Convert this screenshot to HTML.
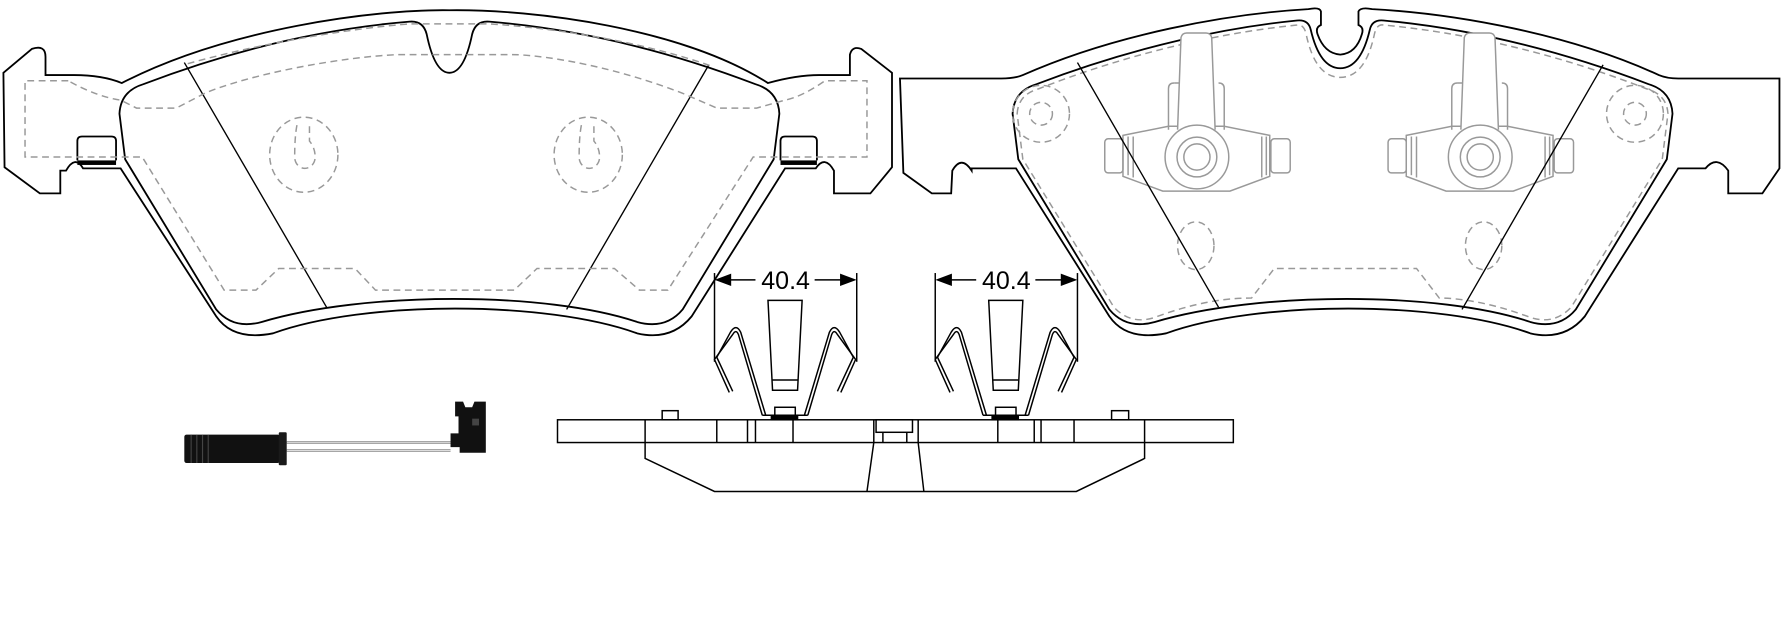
<!DOCTYPE html>
<html><head><meta charset="utf-8"><style>
html,body{margin:0;padding:0;background:#fff;}
svg{display:block;}
text{font-family:"Liberation Sans",sans-serif;}
</style></head><body>
<svg width="1784" height="634" viewBox="0 0 1568 557.3" preserveAspectRatio="none" xmlns="http://www.w3.org/2000/svg">
<defs>
<g id="mount" fill="none" stroke="#999" stroke-width="1.3">
  <path d="M987,119 L1027,111 L1076,111 L1116,119 L1116,155 L1081,168 L1022,168 L987,155 Z" fill="#fff"/>
  <rect x="971" y="122" width="16" height="30" rx="3"/>
  <rect x="1117" y="122" width="17" height="30" rx="3"/>
  <line x1="991.5" y1="120" x2="991.5" y2="154"/><line x1="996" y1="120" x2="996" y2="156"/>
  <line x1="1109" y1="120" x2="1109" y2="156"/><line x1="1113" y1="120" x2="1113" y2="154"/>
  <path d="M1027,114 L1027,78 Q1027,73 1032,73 M1071,73 Q1076,73 1076,78 L1076,114"/>
  <line x1="1032" y1="73" x2="1071" y2="73" stroke-dasharray="8,5"/>
  <path d="M1035,114 L1038,33 Q1039,29 1043,29 L1060,29 Q1064,29 1065,33 L1068,114" fill="#fff"/>
  <circle cx="1052" cy="138" r="28" fill="#fff"/>
  <circle cx="1052" cy="138" r="17.5"/>
  <circle cx="1052" cy="138" r="11.5"/>
</g>
<g id="clip" fill="none" stroke="#000" stroke-width="1.3">
  <line x1="628" y1="240" x2="628" y2="318"/>
  <line x1="753" y1="240" x2="753" y2="318"/>
  <line x1="640" y1="246" x2="664" y2="246"/>
  <line x1="716" y1="246" x2="741" y2="246"/>
  <path d="M630,246 L642,241.5 L642,250.5 Z M751,246 L739,241.5 L739,250.5 Z" fill="#000"/>
  <text x="690.5" y="254" font-size="22" text-anchor="middle" fill="#000" stroke="none">40.4</text>
  <path d="M675,264 L705,264 L701,343 L679,343 Z"/>
  <path d="M679,334 L701,334"/>
  <path d="M670,365 L649,294 Q647,289 644,294 L628,316 L641,345"/>
  <path d="M673,365 L651,292 Q647,284 642,292 L630,314 L644,344"/>
  <path d="M710,365 L731,294 Q733,289 736,294 L752,316 L739,345"/>
  <path d="M707,365 L729,292 Q733,284 738,292 L750,314 L736,344"/>
  <line x1="670" y1="365" x2="710" y2="365"/>
  <rect x="681" y="358" width="18" height="7"/>
  <rect x="678" y="365" width="23" height="4" fill="#000"/>
</g>
</defs>

<!-- LEFT PAD -->
<g fill="none" stroke="#000" stroke-width="1.6">
  <path d="M40,66 L65,66 Q90,66 107,73 C200,25 330,8 395,9 C470,8 600,25 675,73 Q700,66 720,66 L747,66 L747,48 Q749,40 757,43 L784,64 L784,147 L765,170 L733,170 L733,150 Q725,136 717,148 L690,148 L608,278 Q590,300 560,293 C480,264 320,264 240,293 Q205,300 190,278 L106,148 L73,148 Q66,136 58,150 L53,150 L53,170 L35,170 L4,147 L3,64 L28,43 Q40,39 40,50 Z"/>
  <path d="M105,100 Q106,80 126,74 C220,38 300,24 360,19 Q372,18 375,30 Q382,64 395,64 Q408,64 415,30 Q418,18 430,19 C490,24 570,38 664,74 Q684,80 685,100 L680,140 L600,272 Q585,290 560,283 C480,256 320,256 230,283 Q205,290 190,272 L110,140 Z"/>
  <path d="M68,141 L68,124 Q68,120 72,120 L98,120 Q102,120 102,124 L102,141"/>
  <path d="M686,141 L686,124 Q686,120 690,120 L714,120 Q718,120 718,124 L718,141"/>
</g>
<rect x="68" y="141" width="34" height="4" fill="#000"/>
<rect x="686" y="141" width="32" height="4" fill="#000"/>
<g stroke="#000" stroke-width="1.2"><line x1="162" y1="55" x2="287" y2="270"/><line x1="623" y1="57" x2="498" y2="272"/></g>
<g fill="none" stroke="#999" stroke-width="1.3" stroke-dasharray="6,4">
  <path d="M165,56 C240,35 320,24 360,21 L430,21 C480,24 560,35 625,58"/>
  <path d="M60,71 L22,71 L22,138 L125,138 L197,255 L225,255 L245,236 L312,236 L330,255 L452,255 L472,236 L540,236 L562,255 L587,255 L662,138 L762,138 L762,71 L725,71 Q705,85 690,88 L665,95 L630,95 L600,82 C530,55 470,48 450,48 L350,48 C300,50 220,65 180,82 L155,95 L120,95 L106,88 Q85,85 60,71"/>
  <ellipse cx="267" cy="136" rx="30" ry="33"/>
  <ellipse cx="517" cy="136" rx="30" ry="33"/>
  <path d="M261,110 Q259,120 259,138 A9,10 0 0 0 277,138 Q277,130 272,124 L272,110"/>
  <path d="M511,110 Q509,120 509,138 A9,10 0 0 0 527,138 Q527,130 522,124 L522,110"/>
</g>

<!-- RIGHT PAD -->
<g fill="none" stroke="#000" stroke-width="1.6">
  <path d="M791,69 L880,69 Q892,69 899,66 C980,30 1080,12 1150,8 Q1160,6 1161,10 L1161,22 Q1156,24 1158,30 Q1164,47 1178,48 Q1192,47 1197,30 Q1199,24 1194,22 L1194,10 Q1196,6 1206,8 C1280,12 1380,30 1458,66 Q1465,69 1475,69 L1564,69 L1564,148 L1549,170 L1519,170 L1519,150 Q1509,136 1499,148 L1475,148 L1393,278 Q1375,300 1345,293 C1265,264 1105,264 1025,293 Q990,300 975,278 L893,148 L854,148 L854,150 Q845,136 837,150 L836,170 L819,170 L794,152 L791,69 Z"/>
  <path d="M890,100 Q891,80 911,74 C1000,40 1080,24 1140,18 Q1150,17 1152,26 Q1160,60 1178,60 Q1196,60 1204,26 Q1206,17 1216,18 C1280,24 1360,40 1449,74 Q1469,80 1470,100 L1465,140 L1385,272 Q1370,290 1345,283 C1265,256 1105,256 1015,283 Q990,290 975,272 L895,140 Z"/>
</g>
<g fill="none" stroke="#999" stroke-width="1.3" stroke-dasharray="6,4">
  <path d="M894,100 Q895,83 913,78 C1000,44 1080,28 1140,22 Q1146,21 1148,30 Q1156,68 1178,68 Q1200,68 1208,30 Q1210,21 1216,22 C1280,28 1360,44 1447,78 Q1465,83 1466,100 L1461,140 L1381,270 Q1366,286 1345,279 C1300,262 1270,262 1265,262 L1245,236 L1120,236 L1100,262 C1090,262 1060,262 1015,279 Q994,286 979,270 L899,140 Z"/>
  <circle cx="915" cy="100" r="25"/><circle cx="915" cy="100" r="10"/>
  <circle cx="1437" cy="100" r="25"/><circle cx="1437" cy="100" r="10"/>
  <ellipse cx="1051" cy="216" rx="16" ry="21"/>
  <ellipse cx="1304" cy="216" rx="16" ry="21"/>
</g>
<use href="#mount"/>
<use href="#mount" transform="translate(249,0)"/>
<g stroke="#000" stroke-width="1.2"><line x1="947" y1="55" x2="1071" y2="270"/><line x1="1409" y1="57" x2="1285" y2="272"/></g>

<!-- CLIPS & SIDE VIEW -->
<use href="#clip"/>
<use href="#clip" transform="translate(194,0)"/>
<g fill="none" stroke="#000" stroke-width="1.3">
  <rect x="490" y="369" width="594" height="20"/>
  <path d="M567,369 L567,389 M630,369 L630,389 M657,369 L657,389 M664,369 L664,389 M697,369 L697,389 M768,369 L768,389 M807,369 L807,389 M877,369 L877,389 M909,369 L909,389 M915,369 L915,389 M944,369 L944,389 M1006,369 L1006,389"/>
  <rect x="582" y="361" width="14" height="8"/>
  <rect x="977" y="361" width="15" height="8"/>
  <rect x="770" y="369" width="32" height="11"/>
  <path d="M776,380 L776,389 M797,380 L797,389"/>
  <path d="M567,389 L567,403 L628,432 L946,432 L1006,403 L1006,389"/>
  <path d="M768,389 L762,432 M807,389 L812,432"/>
</g>

<!-- WEAR SENSOR -->
<g>
  <path d="M252,389 L396,389 M252,396 L396,396" stroke="#888" stroke-width="2.2"/>
  <path d="M252,389 L396,389 M252,396 L396,396" stroke="#ddd" stroke-width="0.8"/>
  <rect x="162" y="382" width="84" height="25" rx="2" fill="#111"/>
  <rect x="245" y="380" width="7" height="29" rx="1" fill="#1a1a1a"/>
  <g stroke="#444" stroke-width="1"><line x1="168" y1="382" x2="168" y2="407"/><line x1="173" y1="382" x2="173" y2="407"/><line x1="178" y1="382" x2="178" y2="407"/><line x1="183" y1="382" x2="183" y2="407"/></g>
  <path d="M400,353 L407,353 L409,358 L415,358 L417,353 L427,353 L427,398 L404,398 L404,393 L396,393 L396,381 L403,381 L403,366 L400,366 Z" fill="#111"/>
  <rect x="415" y="368" width="6" height="6" fill="#444"/>
</g>
</svg>
</body></html>
